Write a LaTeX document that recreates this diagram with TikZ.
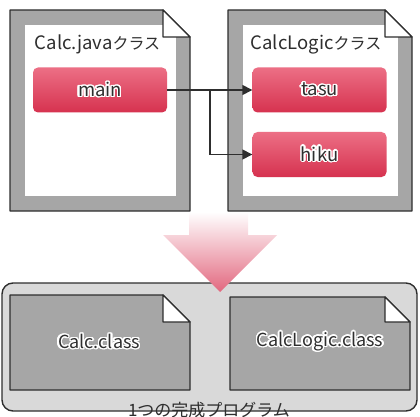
\documentclass[tikz,border=0pt]{standalone}
\usepackage{fontspec}
\setmainfont{Noto Sans CJK JP}
\usepackage{contour}
\contourlength{1.3pt}
\contournumber{20}
\usetikzlibrary{arrows.meta}

\definecolor{inkline}{HTML}{2E2E2E}
\definecolor{docgray}{HTML}{A6A6A6}
\definecolor{panelgray}{HTML}{D9D9D9}
\definecolor{redtop}{HTML}{EC6F85}
\definecolor{redbot}{HTML}{D6324F}
\definecolor{pinktip}{HTML}{E2687F}

% sheet of paper with a folded top-right corner
\newcommand{\foldsheet}[6]{% x1, y1, x2, y2, fold size, fill
  \draw[docline, fill=#6] (#1,#2) -- ({#3-#5},#2) -- (#3,{#2+#5}) -- (#3,#4) -- (#1,#4) -- cycle;
}
\newcommand{\foldflap}[5]{% x1, y1, x2, y2, fold size
  \draw[docline, fill=white] ({#3-#5},#2) -- ({#3-#5},{#2+#5}) -- (#3,{#2+#5}) -- cycle;
}
% title: Latin part a little larger than the kana
\newcommand{\sheettitle}[2]{{\fontsize{18.5}{22}\selectfont #1}{\fontsize{16}{20}\selectfont #2}}

\begin{document}
\begin{tikzpicture}[x=1pt, y=-1pt,
  docline/.style={draw=inkline, line width=1.3pt, line join=round},
  titletext/.style={text=inkline, inner sep=0pt},
  method/.style={rounded corners=5pt, top color=redtop, bottom color=redbot,
    minimum width=134pt, minimum height=45pt, inner sep=0pt,
    font=\fontsize{18.5}{21}\selectfont, text=inkline},
  classtext/.style={font=\fontsize{18}{21}\selectfont, text=inkline, inner sep=0pt},
  call/.style={draw=inkline, line width=1.5pt, -{Triangle[length=10pt,width=10pt]}}
]
\useasboundingbox (0,0) rectangle (420,417);

% --- source file: Calc.java ---
\foldsheet{10}{10}{190}{211}{27}{docgray}
\fill[white] (25,25) rectangle (176,196);
\foldflap{10}{10}{190}{211}{27}
\node[titletext] (calctitle) at (97.5,44) {\sheettitle{Calc.java}{クラス}};
\node[method] (main) at (100,90) {\contour{white}{main}};

% --- source file: CalcLogic.java ---
\foldsheet{228}{10}{412}{211}{27}{docgray}
\fill[white] (243,25) rectangle (398,196);
\foldflap{228}{10}{412}{211}{27}
\node[titletext] (logictitle) at (316,44) {\sheettitle{CalcLogic}{クラス}};
\node[method] (tasu) at (319.5,90) {\contour{white}{tasu}};
\node[method] (hiku) at (319.5,154.5) {\contour{white}{hiku}};

% --- method calls ---
\coordinate (branch) at (210,90);
\draw[call] (main.east) -- (tasu.west);
\draw[call] (branch) |- (hiku.west);

% --- compiled program ---
\draw[draw=inkline, line width=1.4pt, fill=panelgray, rounded corners=11pt] (2,283) rectangle (417,411);
\fill[white] (112,411.9) rectangle (308,417);

% --- big down arrow ---
\shade[top color=white, bottom color=pinktip]
  (189,212) -- (248,212) -- (248,235) -- (277,235) -- (220,292) -- (163,235) -- (189,235) -- cycle;

\foldsheet{10}{295}{190}{390}{27}{docgray}
\foldflap{10}{295}{190}{390}{27}
\node[classtext] (calcclass) at (99,342) {\contour{white}{Calc.class}};

\foldsheet{230}{297}{410}{390}{25}{docgray}
\foldflap{230}{297}{410}{390}{25}
\node[classtext] (logicclass) at (320,342) {\contour{white}{CalcLogic.class}};

\node[titletext, font=\fontsize{17}{19}\selectfont] (program) at (209,410) {1つの完成プログラム};
\end{tikzpicture}
\end{document}
